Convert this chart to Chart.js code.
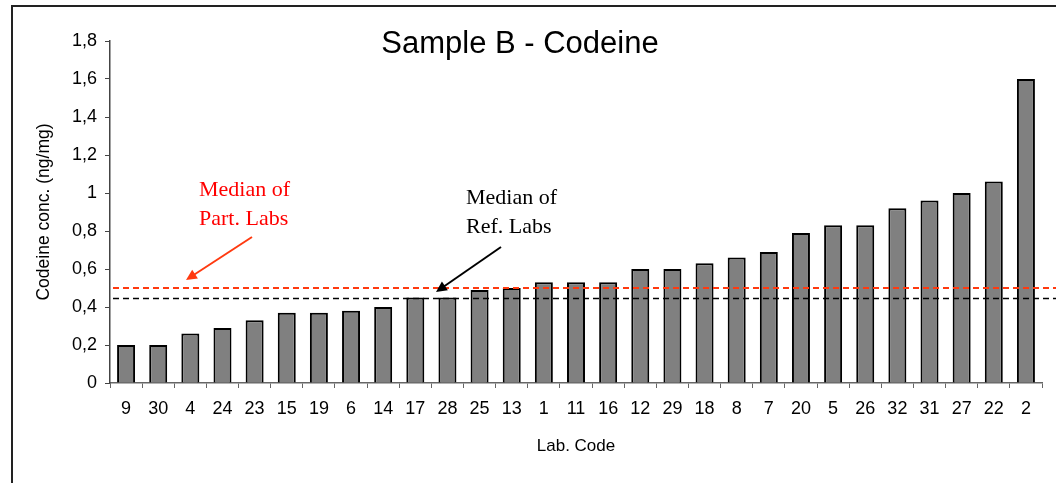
<!DOCTYPE html>
<html>
<head>
<meta charset="utf-8">
<script src="https://cdn.jsdelivr.net/npm/chart.js@4/dist/chart.umd.min.js"></script>
<style>
  html, body { margin: 0; padding: 0; background: #fff; }
  #wrap { width: 1056px; height: 483px; }
</style>
</head>
<body>
<div id="wrap"><canvas id="chart" width="1056" height="483"></canvas></div>
<script>
// lab codes, ordered by result
const labCodes = ["9", "30", "4", "24", "23", "15", "19", "6", "14", "17", "28", "25", "13", "1",
  "11", "16", "12", "29", "18", "8", "7", "20", "5", "26", "32", "31", "27", "22", "2"];
// codeine concentration (ng/mg)
const codeineValues = [0.20, 0.20, 0.26, 0.29, 0.33, 0.37, 0.37, 0.38, 0.40, 0.45, 0.45, 0.49, 0.50, 0.53,
  0.53, 0.53, 0.60, 0.60, 0.63, 0.66, 0.69, 0.79, 0.83, 0.83, 0.92, 0.96, 1.00, 1.06, 1.60];
const yTickLabels = ["0", "0,2", "0,4", "0,6", "0,8", "1", "1,2", "1,4", "1,6", "1,8"];
const partLabsMedian = 0.50;
const refLabsMedian = 0.445;

function arrow(ctx, x1, y1, x2, y2, color) {
  const a = Math.atan2(y2 - y1, x2 - x1);
  const len = 12, spread = 0.45;
  ctx.save();
  ctx.strokeStyle = color;
  ctx.fillStyle = color;
  ctx.lineWidth = 2;
  ctx.beginPath();
  ctx.moveTo(x1, y1);
  ctx.lineTo(x2 - Math.cos(a) * len * 0.8, y2 - Math.sin(a) * len * 0.8);
  ctx.stroke();
  ctx.beginPath();
  ctx.moveTo(x2, y2);
  ctx.lineTo(x2 - len * Math.cos(a - spread), y2 - len * Math.sin(a - spread));
  ctx.lineTo(x2 - len * Math.cos(a + spread), y2 - len * Math.sin(a + spread));
  ctx.closePath();
  ctx.fill();
  ctx.restore();
}

const extras = {
  id: "extras",
  beforeDraw(chart) {
    const ctx = chart.ctx;
    ctx.save();
    ctx.fillStyle = "#fff";
    ctx.fillRect(0, 0, chart.width, chart.height);
    ctx.strokeStyle = "#222";
    ctx.lineWidth = 2;
    ctx.strokeRect(12, 6, chart.width + 20, chart.height + 20);
    ctx.restore();
  },
  afterDatasetsDraw(chart) {
    const ctx = chart.ctx;
    const y = chart.scales.y;
    const left = chart.chartArea.left + 3;
    ctx.save();
    ctx.setLineDash([6, 4]);
    ctx.lineWidth = 2;
    ctx.strokeStyle = "#ff3a10";
    let yp = y.getPixelForValue(partLabsMedian);
    ctx.beginPath(); ctx.moveTo(left, yp); ctx.lineTo(chart.width, yp); ctx.stroke();
    ctx.lineWidth = 1.5;
    ctx.strokeStyle = "#000";
    yp = y.getPixelForValue(refLabsMedian);
    ctx.beginPath(); ctx.moveTo(left, yp); ctx.lineTo(chart.width, yp); ctx.stroke();
    ctx.restore();

    // title
    ctx.save();
    ctx.fillStyle = "#000";
    ctx.font = "31px 'Liberation Sans', Arial, sans-serif";
    ctx.textAlign = "center";
    ctx.textBaseline = "alphabetic";
    ctx.fillText("Sample B - Codeine", 520, 53);

    // annotations
    ctx.textAlign = "left";
    ctx.font = "22px 'Liberation Serif', 'Times New Roman', serif";
    ctx.fillStyle = "#ff0000";
    ctx.fillText("Median of", 199, 196);
    ctx.fillText("Part. Labs", 199, 225);
    ctx.fillStyle = "#000";
    ctx.fillText("Median of", 466, 204);
    ctx.fillText("Ref. Labs", 466, 233);
    ctx.restore();

    arrow(ctx, 252, 237, 186, 280, "#ff3a10");
    arrow(ctx, 501, 247, 436, 292, "#000");
  }
};

new Chart(document.getElementById("chart").getContext("2d"), {
  type: "bar",
  data: {
    labels: labCodes,
    datasets: [{
      data: codeineValues,
      backgroundColor: "#808080",
      borderColor: "#000",
      borderWidth: 2,
      barPercentage: 0.56,
      categoryPercentage: 1.0
    }]
  },
  options: {
    responsive: false,
    animation: false,
    events: [],
    layout: { padding: { left: 0, right: 14, top: 41, bottom: 0 } },
    plugins: {
      legend: { display: false },
      tooltip: { enabled: false },
      title: { display: false }
    },
    scales: {
      x: {
        grid: { display: true, drawOnChartArea: false, offset: true, tickLength: 5, color: "#666" },
        border: { display: true, color: "#666", width: 1.5 },
        ticks: { color: "#000", padding: 10, maxRotation: 0, autoSkip: false,
          font: { family: "'Liberation Sans', Arial, sans-serif", size: 18 } },
        title: { display: true, text: "Lab. Code", color: "#000",
          font: { family: "'Liberation Sans', Arial, sans-serif", size: 17 },
          padding: { top: 0, bottom: 26 } },
        afterFit(scale) { scale.height = 100; }
      },
      y: {
        min: 0,
        max: 1.8,
        grid: { display: true, drawOnChartArea: false, tickLength: 5, color: "#444" },
        border: { display: true, color: "#444", width: 1.5 },
        ticks: {
          stepSize: 0.2,
          color: "#000",
          padding: 8,
          font: { family: "'Liberation Sans', Arial, sans-serif", size: 18 },
          callback: (v, i) => yTickLabels[i]
        },
        title: { display: true, text: "Codeine conc. (ng/mg)", color: "#000",
          font: { family: "'Liberation Sans', Arial, sans-serif", size: 17.5 },
          padding: { top: 34, bottom: 0 } },
        afterFit(scale) { scale.width = 110; }
      }
    }
  },
  plugins: [extras]
});
</script>
</body>
</html>
